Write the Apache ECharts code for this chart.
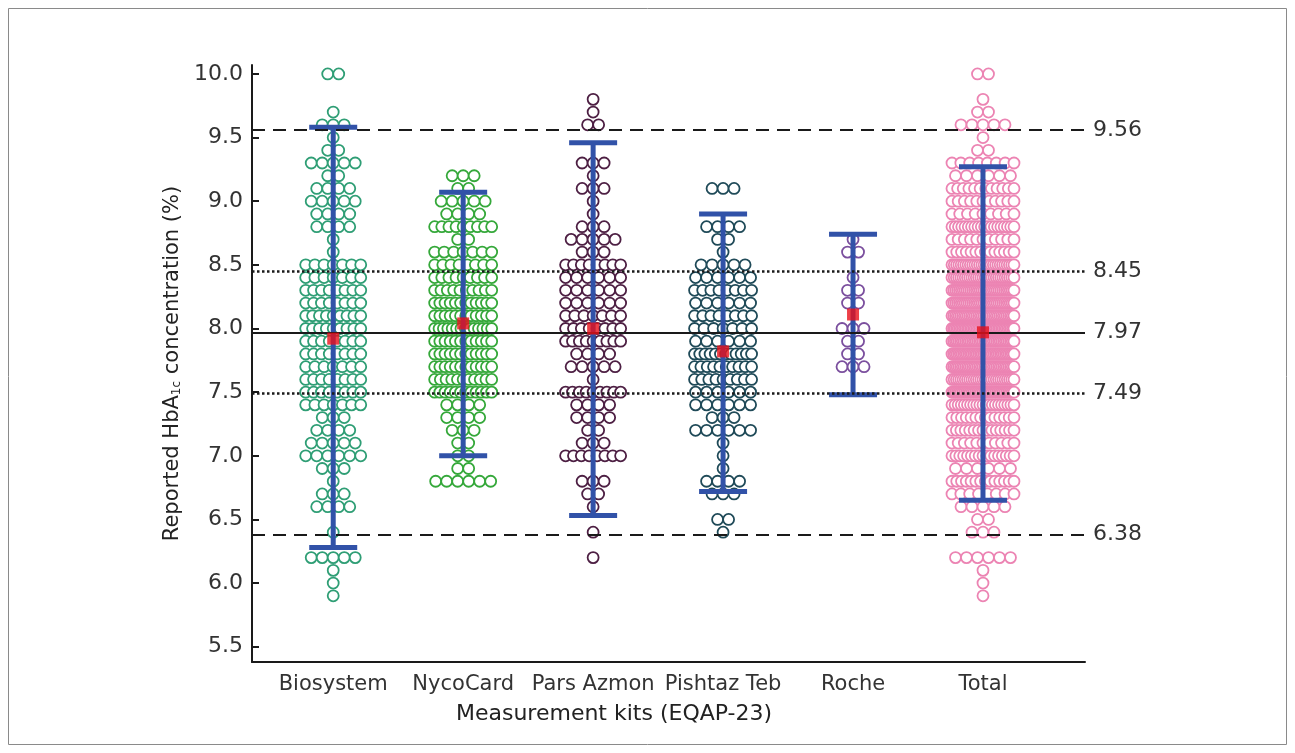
<!DOCTYPE html>
<html>
<head>
<meta charset="utf-8">
<script src="https://cdn.jsdelivr.net/npm/echarts@6/dist/echarts.min.js"></script>
<style>
  html, body { margin: 0; padding: 0; background: #fff; }
  #chart { width: 1295px; height: 753px; }
</style>
</head>
<body>
<div id="chart"></div>
<script>
// kits on the x axis
const kits = ['Biosystem', 'NycoCard', 'Pars Azmon', 'Pishtaz Teb', 'Roche', 'Total'];

// reported values are in 0.1 steps, counts below line up with these levels
const levels = [10.0, 9.9, 9.8, 9.7, 9.6, 9.5, 9.4, 9.3, 9.2, 9.1,
                9.0, 8.9, 8.8, 8.7, 8.6, 8.5, 8.4, 8.3, 8.2, 8.1,
                8.0, 7.9, 7.8, 7.7, 7.6, 7.5, 7.4, 7.3, 7.2, 7.1,
                7.0, 6.9, 6.8, 6.7, 6.6, 6.5, 6.4, 6.3, 6.2, 6.1,
                6.0, 5.9];

// number of labs reporting each level, per kit
const biosystemCounts = [2, 0, 0, 1, 3, 1, 2, 5, 2, 4,
                         5, 4, 4, 1, 1, 7, 7, 8, 8, 9,
                         9, 8, 8, 7, 8, 8, 7, 3, 4, 5,
                         6, 3, 1, 3, 4, 0, 1, 0, 5, 1,
                         1, 1];
const nycoCardCounts = [0, 0, 0, 0, 0, 0, 0, 0, 3, 2,
                        5, 4, 9, 2, 7, 8, 9, 10, 12, 12,
                        14, 12, 12, 12, 11, 12, 4, 4, 3, 2,
                        2, 2, 6, 0, 0, 0, 0, 0, 0, 0,
                        0, 0];
const parsAzmonCounts = [0, 0, 1, 1, 2, 0, 0, 3, 1, 3,
                         1, 1, 3, 5, 3, 8, 6, 6, 6, 7,
                         8, 9, 4, 5, 1, 9, 4, 4, 2, 3,
                         8, 0, 3, 2, 1, 0, 1, 0, 1, 0,
                         0, 0];
const pishtazTebCounts = [0, 0, 0, 0, 0, 0, 0, 0, 0, 3,
                          0, 0, 4, 2, 1, 5, 6, 8, 6, 8,
                          7, 6, 12, 10, 9, 6, 6, 3, 6, 1,
                          1, 1, 4, 3, 0, 2, 1, 0, 0, 0,
                          0, 0];
const rocheCounts = [0, 0, 0, 0, 0, 0, 0, 0, 0, 0,
                     0, 0, 0, 1, 2, 0, 1, 2, 2, 0,
                     3, 2, 2, 3, 0, 0, 0, 0, 0, 0,
                     0, 0, 0, 0, 0, 0, 0, 0, 0, 0,
                     0, 0];

// mean and +/- 2SD whiskers per kit
const means = [7.92, 8.04, 8.00, 7.82, 8.11, 7.97];
const lowerLimits = [6.28, 7.00, 6.53, 6.72, 7.48, 6.65];
const upperLimits = [9.58, 9.07, 9.46, 8.90, 8.74, 9.27];

// horizontal reference lines (target and limits)
const refDashed = [9.56, 6.38];
const refDotted = [8.45, 7.49];
const refTarget = 7.97;

const yTicks = [5.5, 6.0, 6.5, 7.0, 7.5, 8.0, 8.5, 9.0, 9.5, 10.0];

const kitCounts = [biosystemCounts, nycoCardCounts, parsAzmonCounts, pishtazTebCounts, rocheCounts];
// Total column is the pooled results of all kits
const totalCounts = levels.map((_, i) => kitCounts.reduce((s, arr) => s + arr[i], 0));
kitCounts.push(totalCounts);

const dotColors = ['#2f9e75', '#35a83a', '#4d1f43', '#1f4a58', '#7b4f9e', '#ec84b3'];
const FONT = 'DejaVu Sans';
const DOT_R = 5.5;
const DOT_STEP = 11;
const maxSpan = [55, 57, 55, 57, 55, 62];
const BLUE = '#3152a8';

let chart = echarts.init(document.getElementById('chart'));

function dotSeries(k) {
  const data = [];
  levels.forEach((lv, i) => {
    if (kitCounts[k][i] > 0) data.push([k, lv, kitCounts[k][i]]);
  });
  return {
    type: 'custom',
    name: kits[k],
    z: 2,
    silent: true,
    data: data,
    renderItem: function (params, api) {
      const c = api.coord([api.value(0), api.value(1)]);
      const n = api.value(2);
      const span = Math.min((n - 1) * DOT_STEP, maxSpan[k]);
      const step = n > 1 ? span / (n - 1) : 0;
      const children = [];
      for (let i = 0; i < n; i++) {
        children.push({
          type: 'circle',
          shape: { cx: c[0] - span / 2 + i * step, cy: c[1], r: DOT_R },
          style: { fill: '#fff', stroke: dotColors[k], lineWidth: 1.8 }
        });
      }
      return { type: 'group', children: children };
    }
  };
}

const series = kits.map((_, k) => dotSeries(k));

// reference lines
const refData = [];
refDashed.forEach(v => refData.push({ yAxis: v, lineStyle: { type: [13, 8], width: 2, color: '#1a1a1a' } }));
refDotted.forEach(v => refData.push({ yAxis: v, lineStyle: { type: [2.5, 2.5], width: 2.5, color: '#1a1a1a' } }));
refData.push({ yAxis: refTarget, lineStyle: { type: 'solid', width: 2, color: '#1a1a1a' } });

series.push({
  type: 'line',
  z: 3,
  data: [],
  markLine: {
    silent: true,
    symbol: ['none', 'none'],
    animation: false,
    label: {
      position: 'end',
      distance: 8,
      fontFamily: FONT,
      fontSize: 22,
      color: '#333',
      formatter: p => p.value.toFixed(2)
    },
    data: refData
  }
});

// whiskers
series.push({
  type: 'custom',
  z: 4,
  silent: true,
  data: kits.map((_, k) => [k, lowerLimits[k], upperLimits[k]]),
  renderItem: function (params, api) {
    const top = api.coord([api.value(0), api.value(2)]);
    const bot = api.coord([api.value(0), api.value(1)]);
    const half = 24;
    const st = { stroke: BLUE, lineWidth: 5 };
    return {
      type: 'group',
      children: [
        { type: 'line', shape: { x1: top[0], y1: top[1], x2: bot[0], y2: bot[1] }, style: st },
        { type: 'line', shape: { x1: top[0] - half, y1: top[1], x2: top[0] + half, y2: top[1] }, style: st },
        { type: 'line', shape: { x1: bot[0] - half, y1: bot[1], x2: bot[0] + half, y2: bot[1] }, style: st }
      ]
    };
  }
});

// means
series.push({
  type: 'scatter',
  z: 5,
  silent: true,
  symbol: 'rect',
  symbolSize: 12,
  itemStyle: { color: '#e8101a' },
  data: means.map((m, k) => [k, m])
});

const option = {
  animation: false,
  backgroundColor: '#fff',
  grid: { left: 252, right: 210, top: 65, bottom: 91 },
  xAxis: {
    type: 'value',
    min: -0.625,
    max: 5.785,
    splitLine: { show: false },
    axisLine: { show: true, onZero: false, lineStyle: { color: '#1a1a1a', width: 2 } },
    axisTick: { show: false },
    axisLabel: {
      customValues: [0, 1, 2, 3, 4, 5],
      formatter: v => kits[Math.round(v)],
      fontFamily: FONT,
      fontSize: 21,
      color: '#333',
      margin: 12
    }
  },
  yAxis: {
    type: 'value',
    min: 5.38,
    max: 10.07,
    splitLine: { show: false },
    axisLine: { show: true, onZero: false, lineStyle: { color: '#1a1a1a', width: 2 } },
    axisTick: { show: true, inside: true, length: 7, customValues: yTicks, lineStyle: { color: '#1a1a1a', width: 2 } },
    axisLabel: {
      customValues: yTicks,
      formatter: v => v.toFixed(1),
      fontFamily: FONT,
      fontSize: 22,
      color: '#333',
      margin: 9
    },
    name: 'Reported HbA{s|1c} concentration (%)',
    nameLocation: 'middle',
    nameRotate: 90,
    nameGap: 64,
    nameTextStyle: {
      fontFamily: FONT,
      fontSize: 21,
      color: '#222',
      rich: {
        s: { fontFamily: FONT, fontSize: 12, color: '#222', verticalAlign: 'bottom', padding: [8, 0, 0, 0] }
      }
    }
  },
  graphic: [
    {
      type: 'rect',
      shape: { x: 8.5, y: 8.5, width: 1278, height: 736 },
      style: { fill: 'none', stroke: '#8a8a8a', lineWidth: 1 },
      silent: true
    },
    {
      type: 'text',
      x: 614,
      y: 714,
      style: {
        text: 'Measurement kits (EQAP-23)',
        fontFamily: FONT,
        fontSize: 22,
        fill: '#222',
        align: 'center',
        verticalAlign: 'middle'
      }
    }
  ],
  series: series
};

chart.setOption(option);

window.addEventListener('resize', () => {
  chart.resize();
});
</script>
</body>
</html>
